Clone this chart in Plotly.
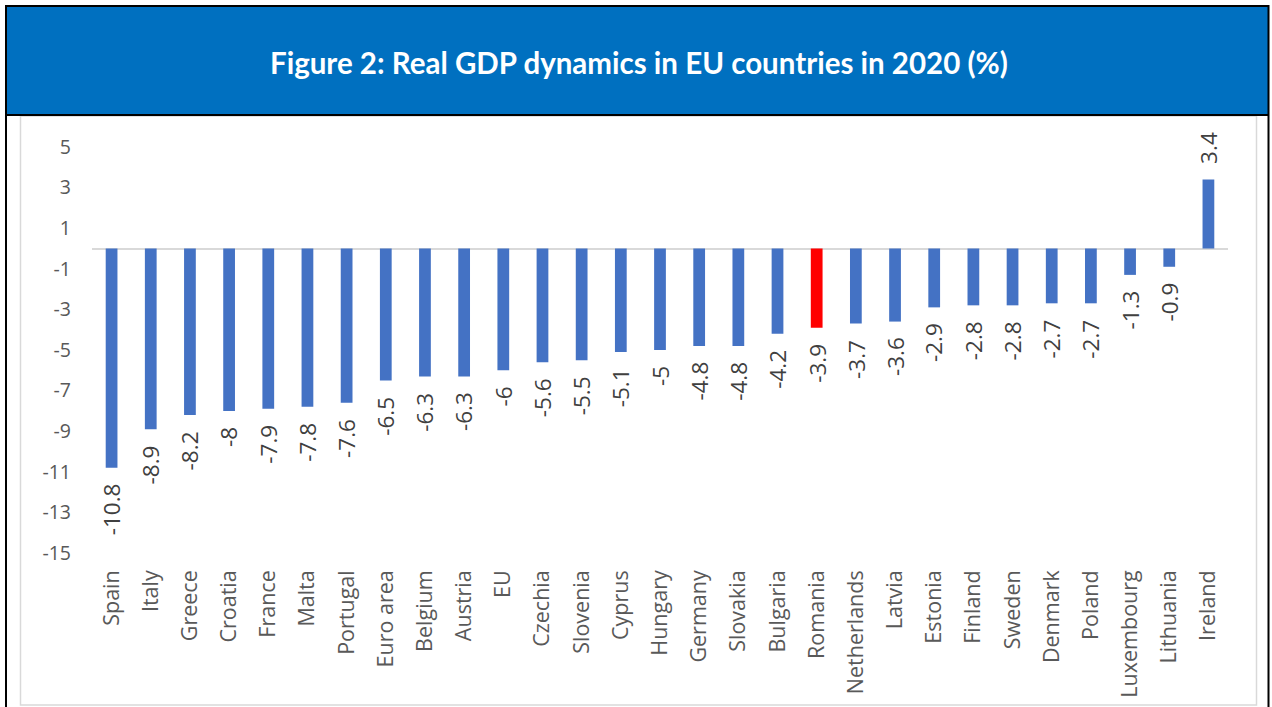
import plotly.graph_objects as go

# Real GDP change in 2020, %, by EU country (sorted ascending, Ireland last)
countries = ["Spain", "Italy", "Greece", "Croatia", "France", "Malta", "Portugal",
             "Euro area", "Belgium", "Austria", "EU", "Czechia", "Slovenia", "Cyprus",
             "Hungary", "Germany", "Slovakia", "Bulgaria", "Romania", "Netherlands",
             "Latvia", "Estonia", "Finland", "Sweden", "Denmark", "Poland",
             "Luxembourg", "Lithuania", "Ireland"]
gdp_growth = [-10.8, -8.9, -8.2, -8, -7.9, -7.8, -7.6, -6.5, -6.3, -6.3, -6, -5.6,
              -5.5, -5.1, -5, -4.8, -4.8, -4.2, -3.9, -3.7, -3.6, -2.9, -2.8, -2.8,
              -2.7, -2.7, -1.3, -0.9, 3.4]
highlight = "Romania"
y_ticks = [5, 3, 1, -1, -3, -5, -7, -9, -11, -13, -15]

W, H = 1272, 707
BLUE_BAR = "#4472C4"
RED_BAR = "#FF0000"
HEADER = "#0070C0"
AXIS_FONT = "Open Sans"


def px_x(p):
    return p / W


def px_y(p):
    return 1 - p / H


colors = [RED_BAR if c == highlight else BLUE_BAR for c in countries]

fig = go.Figure()
fig.add_trace(go.Bar(
    x=countries,
    y=gdp_growth,
    width=0.3,
    marker=dict(color=colors, line=dict(width=0)),
    hoverinfo="x+y",
))

# rotated value labels just past each bar end
annotations = []
for c, v in zip(countries, gdp_growth):
    annotations.append(dict(
        x=c, y=v, xref="x", yref="y",
        text=f"{v:g}", showarrow=False, textangle=-90,
        yanchor="top" if v < 0 else "bottom",
        yshift=-14 if v < 0 else 14,
        font=dict(family=AXIS_FONT, size=22.5, color="#404040"),
    ))

# header title
annotations.append(dict(
    x=px_x(639), y=px_y(63), xref="paper", yref="paper",
    text="<b>Figure 2: Real GDP dynamics in EU countries in 2020 (%)</b>",
    showarrow=False, xanchor="center", yanchor="middle",
    font=dict(family="Lato", size=29.5, color="white"),
))

shapes = [
    # header band
    dict(type="rect", xref="paper", yref="paper", layer="below",
         x0=px_x(6), x1=px_x(1268), y0=px_y(6), y1=px_y(115),
         fillcolor=HEADER, line=dict(width=0)),
    # chart area frame
    dict(type="rect", xref="paper", yref="paper", layer="below",
         x0=px_x(20.5), x1=px_x(1256.5), y0=px_y(116), y1=px_y(705),
         fillcolor="rgba(0,0,0,0)", line=dict(color="#D9D9D9", width=1.5)),
    # outer black frame
    dict(type="rect", xref="paper", yref="paper", layer="above",
         x0=px_x(6), x1=px_x(1268.5), y0=px_y(6), y1=px_y(730),
         fillcolor="rgba(0,0,0,0)", line=dict(color="black", width=2)),
    # separator below the header
    dict(type="line", xref="paper", yref="paper", layer="above",
         x0=px_x(6), x1=px_x(1268.5), y0=px_y(115), y1=px_y(115),
         line=dict(color="black", width=2)),
]

fig.update_layout(
    width=W, height=H,
    margin=dict(l=0, r=0, t=0, b=0),
    paper_bgcolor="white",
    plot_bgcolor="white",
    showlegend=False,
    annotations=annotations,
    shapes=shapes,
    xaxis=dict(
        domain=[px_x(92), px_x(1228)],
        type="category",
        tickangle=-90,
        showgrid=False, showline=False, zeroline=False, ticks="",
        ticklabelstandoff=12,
        tickfont=dict(family=AXIS_FONT, size=21.5, color="#595959"),
        automargin=False,
    ),
    yaxis=dict(
        domain=[px_y(553), px_y(147)],
        range=[-15, 5],
        tickvals=y_ticks,
        ticktext=[str(t) for t in y_ticks],
        showgrid=False, showline=False, ticks="",
        zeroline=True, zerolinecolor="#D9D9D9", zerolinewidth=1.5,
        ticklabelstandoff=20,
        tickfont=dict(family=AXIS_FONT, size=19.5, color="#595959"),
        automargin=False,
    ),
)

fig.write_html("out.html")
